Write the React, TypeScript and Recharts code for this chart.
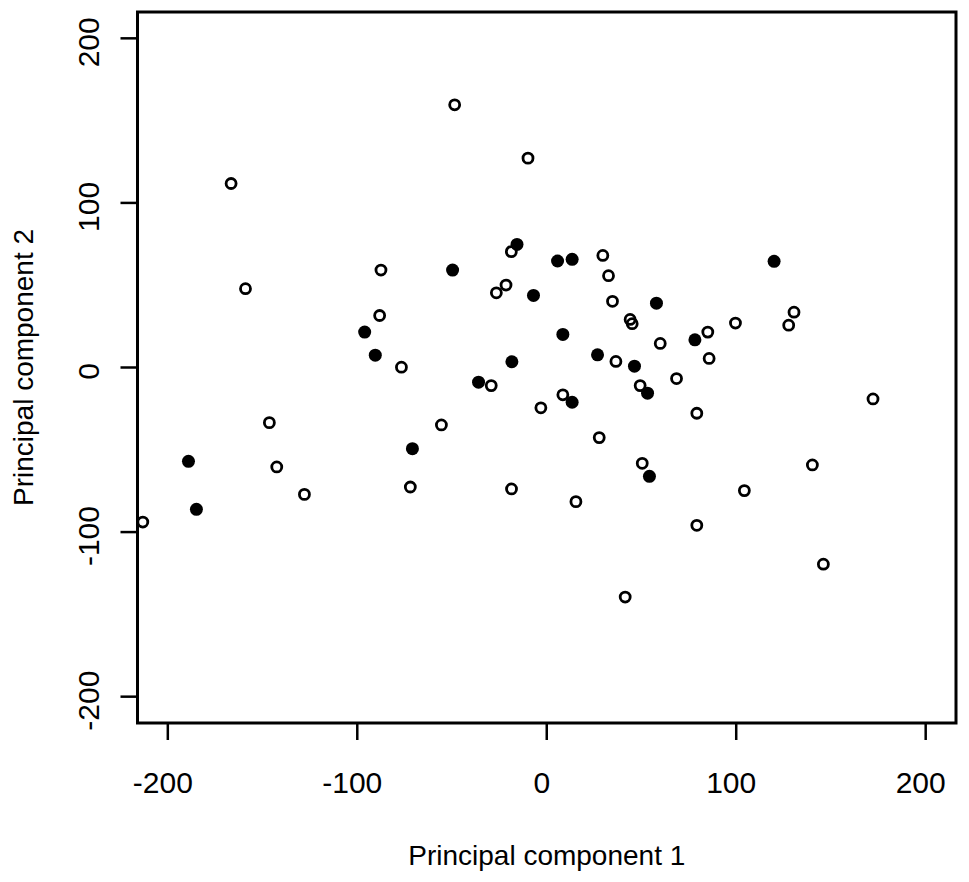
import { ScatterChart, Scatter, XAxis, YAxis, ReferenceArea } from "recharts";

// values (PC1, PC2)
const openPC1 = [
    -166.6, -48.6, -9.9, -159, -87.5, -18.7, -21.5, -26.6, -88.2, -76.7, -29.3,
    29.6, 32.6, 34.7, 44, 45.1, 130.5, 127.7, 99.6, 85, 59.9, 36.5, 85.7, 68.5,
    -3.1, 8.5, 49.3, 79.2, 172.2, 27.7, 50.4, 140.2, 104.3, 15.4, 79.2, 146, 41.4,
    -55.6, -72, -18.6, -146.4, -142.5, -127.9, -213.2,
];
const openPC2 = [
    111.8, 159.6, 127.2, 47.9, 59.2, 70.4, 50.1, 45.4, 31.6, 0.2, -11,
    68.1, 55.8, 40.2, 29.2, 26.6, 33.6, 25.7, 27, 21.5, 14.6, 3.7, 5.5, -6.7,
    -24.5, -16.6, -11, -27.8, -19.1, -42.6, -58.2, -59.2, -74.8, -81.5, -95.9, -119.5, -139.5,
    -34.9, -72.6, -73.8, -33.5, -60.4, -77.1, -93.9,
];
const filledPC1 = [
    -49.7, -15.7, 5.7, 13.4, -7, 57.9, 120, -96.1, -90.5, 8.5, -18.4,
    -36, 26.8, 46.3, 78.2, 13.4, 53.2, 54.2, -70.9, -189.1, -184.9,
];
const filledPC2 = [
    59.2, 74.8, 64.7, 65.7, 43.8, 39.1, 64.5, 21.5, 7.5, 20.1, 3.5,
    -8.9, 7.7, 0.8, 16.8, -21.1, -15.6, -66.1, -49.3, -57, -86.2,
];
const TICKS = [-200, -100, 0, 100, 200];
const LIM = 216;

const openData = openPC1.map((x, i) => ({ x, y: openPC2[i] }));
const filledData = filledPC1.map((x, i) => ({ x, y: filledPC2[i] }));

const FONT = "'Liberation Sans', Arial, sans-serif";

const OpenDot = (p: any) => <circle cx={p.cx} cy={p.cy} r={5} fill="none" stroke="#000" strokeWidth={2.8} />;
const FilledDot = (p: any) => <circle cx={p.cx} cy={p.cy} r={6.5} fill="#000" />;

const XTick = ({ x, y, payload }: any) => (
    <text x={x} y={y + 51} dx={-5} textAnchor="middle" fontSize={30} fontFamily={FONT} fill="#000">
        {payload.value}
    </text>
);

const YTick = ({ x, y, payload }: any) => (
    <text x={x - 19.5} y={y} dx={-4} textAnchor="middle" fontSize={30} fontFamily={FONT} fill="#000"
        transform={`rotate(-90, ${x - 19.5}, ${y})`}>
        {payload.value}
    </text>
);

export default function App() {
    return (
        <div style={{ position: "absolute", left: 0, top: 0, background: "#fff" }}>
            <ScatterChart width={969} height={882} margin={{ top: 12, right: 13, left: 0, bottom: 0 }}>
                <XAxis type="number" dataKey="x" domain={[-LIM, LIM]} ticks={TICKS} allowDataOverflow
                    height={159} axisLine={false} tickSize={17} tickLine={{ stroke: "#000", strokeWidth: 2.5 }}
                    tick={<XTick />}
                    label={{
                        content: ({ viewBox }: any) => (
                            <text x={viewBox.x + viewBox.width / 2} y={viewBox.y + 142} textAnchor="middle"
                                fontSize={28} fontFamily={FONT} fill="#000">Principal component 1</text>
                        ),
                    }} />
                <YAxis type="number" dataKey="y" domain={[-LIM, LIM]} ticks={TICKS} allowDataOverflow
                    width={137.5} axisLine={false} tickSize={17} tickLine={{ stroke: "#000", strokeWidth: 2.5 }}
                    tick={<YTick />}
                    label={{
                        content: ({ viewBox }: any) => {
                            const cx = 33;
                            const cy = viewBox.y + viewBox.height / 2;
                            return (
                                <text x={cx} y={cy} textAnchor="middle" fontSize={28} fontFamily={FONT} fill="#000"
                                    transform={`rotate(-90, ${cx}, ${cy})`}>Principal component 2</text>
                            );
                        },
                    }} />
                <ReferenceArea x1={-LIM} x2={LIM} y1={-LIM} y2={LIM} fill="none" fillOpacity={0}
                    stroke="#000" strokeWidth={3} ifOverflow="visible" />
                <Scatter data={openData} shape={OpenDot} isAnimationActive={false} />
                <Scatter data={filledData} shape={FilledDot} isAnimationActive={false} />
            </ScatterChart>
        </div>
    );
}
